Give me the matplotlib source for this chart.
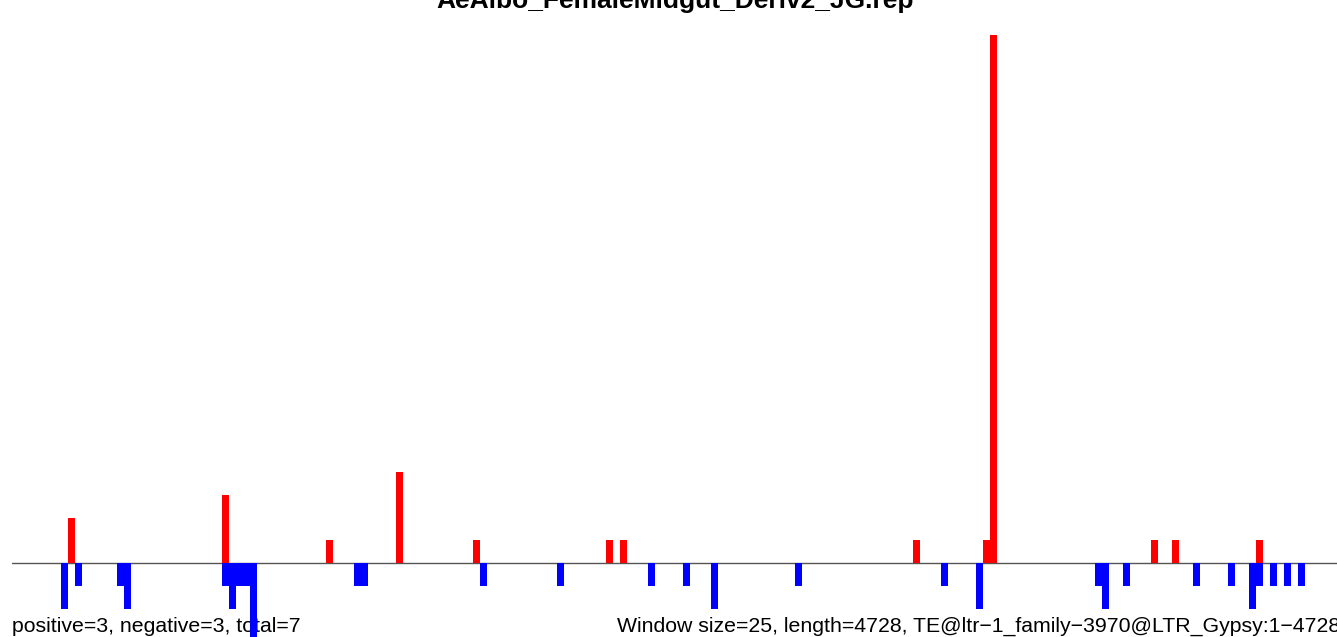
import numpy as np
import matplotlib
matplotlib.use("Agg")
import matplotlib.pyplot as plt

plt.rcParams['font.family'] = ['Liberation Sans', 'DejaVu Sans']

title = "AeAlbo_FemaleMidgut_Deriv2_JG.rep"
window_size = 25
length = 4728

# window index -> read count
pos_windows = [8, 30, 45, 55, 66, 85, 87, 129, 139, 140, 163, 166, 178]
pos_counts = [2, 3, 1, 4, 1, 1, 1, 1, 1, 24, 1, 1, 1]

neg_windows = [7, 9, 15, 16, 30, 31, 32, 33, 34, 49, 50, 67, 78, 91, 96, 100,
               112, 133, 138, 155, 156, 159, 169, 174, 177, 178, 180, 182, 184]
neg_counts = [2, 1, 1, 2, 1, 2, 1, 1, 4, 1, 1, 1, 1, 1, 1, 2,
              1, 1, 2, 1, 2, 1, 1, 1, 2, 1, 1, 1, 1]

left_label = "positive=3, negative=3, total=7"
right_label = "Window size=25, length=4728, TE@ltr\u22121_family\u22123970@LTR_Gypsy:1\u22124728"

W, H = 1337, 637
fig = plt.figure(figsize=(W / 100, H / 100), dpi=100)
ax = fig.add_axes([12 / W, 0, 1 - 12 / W, 602 / H])

px = np.array(pos_windows) * window_size
nx = np.array(neg_windows) * window_size
ax.bar(px, pos_counts, width=window_size, align='edge', color='#ff0000', linewidth=0, zorder=3)
ax.bar(nx, -np.array(neg_counts), width=window_size, align='edge', color='#0000ff', linewidth=0, zorder=3)
ax.axhline(0, color='#555555', lw=1, zorder=2)

ax.set_xlim(0, window_size * (W - 12) / 6.988)
ax.set_ylim(-3.25, 23.25)
ax.axis('off')

fig.text(675 / W, 1 - 8 / H, title, ha='center', va='baseline', fontsize=19, fontweight='bold')
# labels sit under the bars
ax.text(12 / W, 1 - 632 / H, left_label, transform=fig.transFigure, ha='left', va='baseline',
        fontsize=15.3, zorder=1, clip_on=False)
ax.text(617 / W, 1 - 632 / H, right_label, transform=fig.transFigure, ha='left', va='baseline',
        fontsize=15.3, zorder=1, clip_on=False)

fig.savefig("out.png", dpi=100)
